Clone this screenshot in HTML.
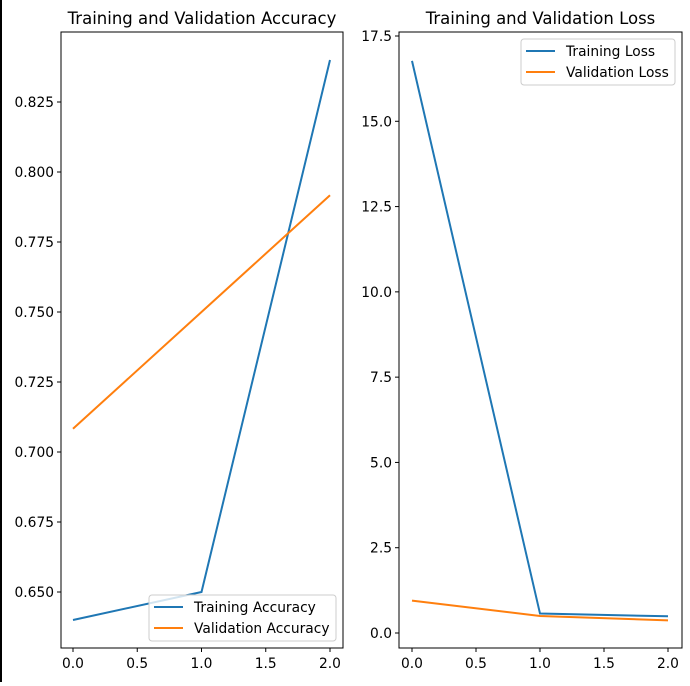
<!DOCTYPE html>
<html><head><meta charset="utf-8"><style>
body{margin:0;background:#fff;font-family:"DejaVu Sans","Liberation Sans",sans-serif;}
svg text{font-family:"DejaVu Sans","Liberation Sans",sans-serif;fill:#000;}
</style></head><body>
<svg id="c" width="690" height="682" xmlns="http://www.w3.org/2000/svg">
<rect x="0" y="0" width="2" height="682" fill="#000"/>
</svg>
<script>
const epochs=[0,1,2];
const trainAcc=[0.640,0.650,0.840];
const valAcc=[0.7083,0.75,0.7917];
const trainLoss=[16.77,0.57,0.49];
const valLoss=[0.95,0.50,0.37];
const xTicks=[0,0.5,1,1.5,2];
const xTickLabels=["0.0","0.5","1.0","1.5","2.0"];
const accTicks=[0.650,0.675,0.700,0.725,0.750,0.775,0.800,0.825];
const accTickLabels=["0.650","0.675","0.700","0.725","0.750","0.775","0.800","0.825"];
const lossTicks=[0,2.5,5,7.5,10,12.5,15,17.5];
const lossTickLabels=["0.0","2.5","5.0","7.5","10.0","12.5","15.0","17.5"];
const svg=document.getElementById('c');
const NS="http://www.w3.org/2000/svg";
function mk(t,a,p){const e=document.createElementNS(NS,t);for(const k in a)e.setAttribute(k,a[k]);(p||svg).appendChild(e);return e;}
function panel(o){
 const g=mk('g',{});
 
 
 const sx=v=>o.x0+(v-0)*(o.x2-o.x0)/2;
 const sy=v=>o.ya+(v-o.va)*(o.yb-o.ya)/(o.vb-o.va);
 const t=mk('text',{x:(o.L+o.R)/2,y:24,'text-anchor':'middle','font-size':'16.5'},g);t.textContent=o.title;
 
 xTicks.forEach((v,i)=>{const x=sx(v);mk('line',{x1:x,x2:x,y1:o.B,y2:o.B+4,stroke:'#000'},g);
  const l=mk('text',{x:x,y:o.B+20,'text-anchor':'middle','font-size':'13.8'},g);l.textContent=xTickLabels[i];
  });
 o.yt.forEach((v,i)=>{const y=sy(v);mk('line',{x1:o.L-4,x2:o.L,y1:y,y2:y,stroke:'#000'},g);
  const l=mk('text',{x:o.L-7,y:y+5,'text-anchor':'end','font-size':'13.8'},g);l.textContent=o.yl[i];
  });
 o.series.forEach(s=>{const p=mk('polyline',{points:epochs.map((e,i)=>sx(e)+','+sy(s.d[i])).join(' '),fill:'none',stroke:s.c,'stroke-width':2},g);
  });
 const f=mk('rect',{x:o.L,y:o.T,width:o.R-o.L,height:o.B-o.T,fill:'none',stroke:'#000','stroke-width':1},g);
 
 const lg=mk('g',{},g);
 mk('rect',{x:o.lx,y:o.ly,width:o.lw,height:46,rx:3,fill:'#fff','fill-opacity':0.8,stroke:'#ccc'},lg);
 o.series.forEach((s,i)=>{const y=o.ly+12+i*21;mk('line',{x1:o.lx+5,x2:o.lx+34,y1:y,y2:y,stroke:s.c,'stroke-width':2},lg);
  const l=mk('text',{x:o.lx+45,y:y+5,'font-size':'13.8'},lg);l.textContent=s.label;
  });
}
panel({name:'accuracy-chart',title:'Training and Validation Accuracy',L:61,R:343,T:32,B:648,x0:73,x2:330,ya:592,va:0.65,yb:102,vb:0.825,
 yt:accTicks,yl:accTickLabels,lx:149,ly:595,lw:187,
 series:[{n:'training-accuracy-line',label:'Training Accuracy',c:'#1f77b4',d:trainAcc},{n:'validation-accuracy-line',label:'Validation Accuracy',c:'#ff7f0e',d:valAcc}]});
panel({name:'loss-chart',title:'Training and Validation Loss',L:399,R:682,T:32,B:648,x0:412,x2:668,ya:633,va:0,yb:36,vb:17.5,
 yt:lossTicks,yl:lossTickLabels,lx:521,ly:39,lw:154,
 series:[{n:'training-loss-line',label:'Training Loss',c:'#1f77b4',d:trainLoss},{n:'validation-loss-line',label:'Validation Loss',c:'#ff7f0e',d:valLoss}]});
</script>
</body></html>
